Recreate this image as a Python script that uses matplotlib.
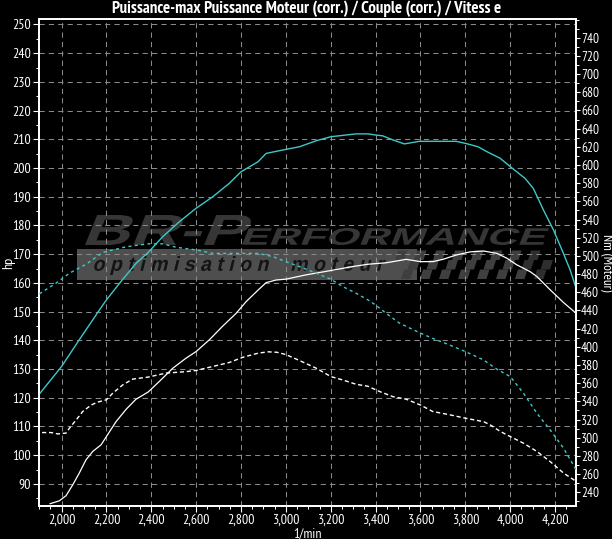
import matplotlib
matplotlib.use("Agg")
import matplotlib.pyplot as plt
import numpy as np
from matplotlib.textpath import TextPath
from matplotlib.font_manager import FontProperties
from matplotlib.patches import PathPatch, Rectangle, Polygon
from matplotlib.transforms import Affine2D
from matplotlib.ticker import MultipleLocator

# ---------------- data ----------------
title = "Puissance-max Puissance Moteur (corr.) / Couple (corr.) / Vitess e"
x_label = "1/min"
y_label_left = "hp"
y_label_right = "Nm (Moteur)"

x_ticks = [2000, 2200, 2400, 2600, 2800, 3000, 3200, 3400, 3600, 3800, 4000, 4200]
x_tick_labels = ["2,000", "2,200", "2,400", "2,600", "2,800", "3,000", "3,200",
                 "3,400", "3,600", "3,800", "4,000", "4,200"]
hp_ticks = [90, 100, 110, 120, 130, 140, 150, 160, 170, 180, 190, 200, 210, 220, 230, 240, 250]
nm_ticks = list(range(240, 741, 20))

# power, tuned run (cyan solid) [rpm, hp]
pw1_rpm = [1898, 2000, 2079, 2169, 2200, 2270, 2332, 2386, 2451, 2525, 2600, 2674, 2748,
           2800, 2876, 2912, 3000, 3060, 3135, 3200, 3313, 3366, 3400, 3432, 3477, 3528,
           3595, 3655, 3759, 3800, 3857, 3896, 3955, 4000, 4066, 4103, 4148, 4193, 4237,
           4267, 4294]
pw1_hp = [121.0, 130.9, 140.2, 150.6, 154.1, 161.0, 166.8, 170.6, 176.1, 181.3, 186.0,
          190.0, 194.7, 198.7, 202.2, 205.1, 206.5, 207.4, 209.5, 210.9, 211.9, 211.9,
          211.5, 211.2, 209.8, 208.4, 209.3, 209.3, 209.3, 208.6, 207.4, 205.7, 203.4,
          200.5, 196.4, 192.9, 185.4, 178.4, 170.3, 164.5, 158.1]

# power, original run (white solid) [rpm, hp]
pw2_rpm = [1949, 1990, 2020, 2050, 2079, 2109, 2139, 2176, 2200, 2243, 2288, 2332, 2386,
           2436, 2496, 2555, 2600, 2659, 2719, 2778, 2823, 2876, 2912, 2956, 3000, 3090,
           3200, 3298, 3366, 3447, 3536, 3600, 3655, 3700, 3759, 3821, 3881, 3940, 3985,
           4029, 4089, 4119, 4178, 4237, 4294]
pw2_hp = [83.1, 84.1, 85.9, 89.7, 93.8, 98.4, 101.3, 103.6, 106.5, 111.7, 116.0, 119.5,
          122.0, 125.7, 130.3, 133.8, 136.1, 140.2, 145.0, 149.4, 153.5, 157.5, 160.1,
          161.0, 161.3, 162.8, 164.3, 165.7, 166.5, 167.0, 168.2, 167.4, 167.4, 168.2,
          169.7, 170.8, 171.1, 170.3, 168.6, 166.3, 163.9, 162.2, 157.6, 153.2, 149.4]

# torque, tuned run (cyan dashed) [rpm, Nm]
tq1_rpm = [1901, 1975, 2035, 2109, 2183, 2288, 2386, 2451, 2511, 2600, 2674, 2748, 2876,
           2941, 3000, 3060, 3135, 3200, 3254, 3313, 3366, 3400, 3447, 3506, 3600, 3655,
           3729, 3800, 3881, 3940, 4000, 4059, 4119, 4178, 4237, 4294]
tq1_nm = [458.3, 470.0, 481.0, 490.8, 503.8, 510.1, 513.3, 513.3, 509.5, 506.6, 502.8,
          502.8, 502.8, 499.3, 493.7, 488.3, 481.0, 474.4, 466.2, 458.9, 451.6, 446.0,
          436.8, 426.1, 415.0, 409.3, 402.1, 394.8, 385.6, 375.5, 367.3, 349.0, 326.9,
          308.6, 288.7, 264.7]

# torque, original run (white dashed) [rpm, Nm]
tq2_rpm = [1913, 1953, 1983, 2020, 2035, 2065, 2094, 2132, 2161, 2200, 2228, 2273, 2317,
           2386, 2466, 2555, 2600, 2674, 2748, 2808, 2876, 2920, 2960, 3000, 3060, 3135,
           3200, 3254, 3313, 3366, 3417, 3477, 3536, 3600, 3655, 3729, 3800, 3881, 3910,
           3955, 4000, 4059, 4119, 4178, 4237, 4294]
tq2_nm = [305.7, 305.7, 304.2, 305.1, 310.5, 319.6, 328.8, 336.0, 339.2, 341.7, 349.0,
          358.2, 364.5, 366.7, 371.1, 372.7, 374.0, 378.4, 382.8, 388.5, 393.0, 394.5,
          394.0, 391.5, 385.0, 376.5, 367.3, 363.5, 358.8, 356.6, 350.9, 345.2, 342.4,
          336.0, 328.8, 325.3, 321.5, 317.7, 314.3, 307.0, 301.3, 294.0, 284.9, 273.8,
          261.2, 252.0]

# ---------------- style ----------------
W, H = 612, 539
CYAN = "#3ec8c8"
GRID = "#8a8a8a"
FONT = ["PT Sans Narrow", "Roboto Condensed", "Liberation Sans", "DejaVu Sans"]
plt.rcParams["font.family"] = FONT

fig = plt.figure(figsize=(W / 100, H / 100), dpi=100, facecolor="black")
L, R, T, B = 38.7, 576.4, 19.3, 506.0
ax = fig.add_axes([L / W, 1 - B / H, (R - L) / W, (B - T) / H])
ax.set_facecolor("black")
ax2 = ax.twinx()

to_fig = Affine2D().scale(1 / W, 1 / H) + fig.transFigure


def box_text(s, x0, y0, x1, y1, color, shear=0.0, weight="bold",
             family="Liberation Sans", z=1.0):
    fp = FontProperties(family=family, weight=weight)
    tp = TextPath((0, 0), s, size=50, prop=fp)
    ext = tp.get_extents()
    sx = (x1 - x0) / ext.width
    sy = (y1 - y0) / ext.height
    tr = (Affine2D().translate(-ext.x0, -ext.y0).scale(sx, sy)
          .skew_deg(shear, 0).translate(x0, H - y1)) + to_fig
    ax.add_artist(PathPatch(tp, facecolor=color, edgecolor="none", transform=tr, zorder=z))


# ---------------- watermark ----------------
ax.add_artist(Rectangle((77, H - 280), 340, 31, facecolor="#4e4e4e", edgecolor="none",
                        transform=to_fig, zorder=0.9))
sq = 9.5
for r in range(3):
    for c in range(16):
        if (r + c) % 2 == 0:
            x0 = 395 + c * sq + (2 - r) * 3.0
            y0 = H - 280 + r * sq + 1
            pts = [(x0, y0), (x0 + sq, y0), (x0 + sq + 3, y0 + sq), (x0 + 3, y0 + sq)]
            shade = "#3f3f3f" if c < 13 else "#2e2e2e"
            ax.add_artist(Polygon(pts, closed=True, facecolor=shade, edgecolor="none",
                                  transform=to_fig, zorder=0.9))
box_text("BR-P", 85, 215, 242, 245, "#363636", shear=22)
box_text("ERFORMANCE", 242, 228, 543, 245, "#363636", shear=22)
box_text("o p t i m i s a t i o n    m o t e u r", 92, 256, 382, 275, "#141414", shear=14)

# ---------------- curves ----------------
ax.plot(pw1_rpm, pw1_hp, color=CYAN, lw=1.0, zorder=3)
ax.plot(pw2_rpm, pw2_hp, color="white", lw=0.9, zorder=3)
ax2.plot(tq1_rpm, tq1_nm, color=CYAN, lw=1.0, dashes=(2.2, 2.4), zorder=3)
ax2.plot(tq2_rpm, tq2_nm, color="white", lw=1.0, dashes=(3.0, 2.0), zorder=3)

# ---------------- axes ----------------
ax.set_xlim(1898, 4295)
ax.set_ylim(82.3, 251.8)
ax2.set_ylim(224.9, 760.3)

ax.set_xticks(x_ticks)
ax.set_xticklabels(x_tick_labels)
ax.xaxis.set_minor_locator(MultipleLocator(50))
ax.set_yticks(hp_ticks)
ax.yaxis.set_minor_locator(MultipleLocator(5))
ax2.set_yticks(nm_ticks)
ax2.yaxis.set_minor_locator(MultipleLocator(10))

for a in (ax, ax2):
    for sp in a.spines.values():
        sp.set_color("white")
        sp.set_linewidth(1.3)
ax.tick_params(axis="both", which="major", colors="white", labelcolor="white",
               length=4, width=0.8, labelsize=10, direction="out", pad=1.5)
ax.tick_params(axis="both", which="minor", colors="white", length=2, width=0.7,
               direction="out")
ax2.tick_params(axis="y", which="major", colors="white", labelcolor="white",
                length=3, width=0.8, labelsize=9.5, direction="out", pad=0.3)
ax2.tick_params(axis="y", which="minor", colors="white", length=2, width=0.7,
                direction="out")

ax.grid(True, which="major", color=GRID, lw=0.75, linestyle=(0, (5, 4)))

ax.set_xlabel(x_label, color="white", fontsize=10, labelpad=0)
ax.set_ylabel(y_label_left, color="white", fontsize=10)
ax.yaxis.set_label_coords((8.5 - L) / (R - L), 0.5)
ax.yaxis.label.set_va("center")
ax.yaxis.label.set_ha("center")
ax2.set_ylabel(y_label_right, color="white", fontsize=9.5, rotation=270)
ax2.yaxis.set_label_coords((606 - L) / (R - L), 0.5)
ax2.yaxis.label.set_va("center")
ax2.yaxis.label.set_ha("center")

fig.text(306.5 / W, 1 - 8.5 / H, title, color="white", fontsize=12.2,
         fontweight="bold", ha="center", va="center")

fig.savefig("out.png", dpi=100, facecolor="black")
